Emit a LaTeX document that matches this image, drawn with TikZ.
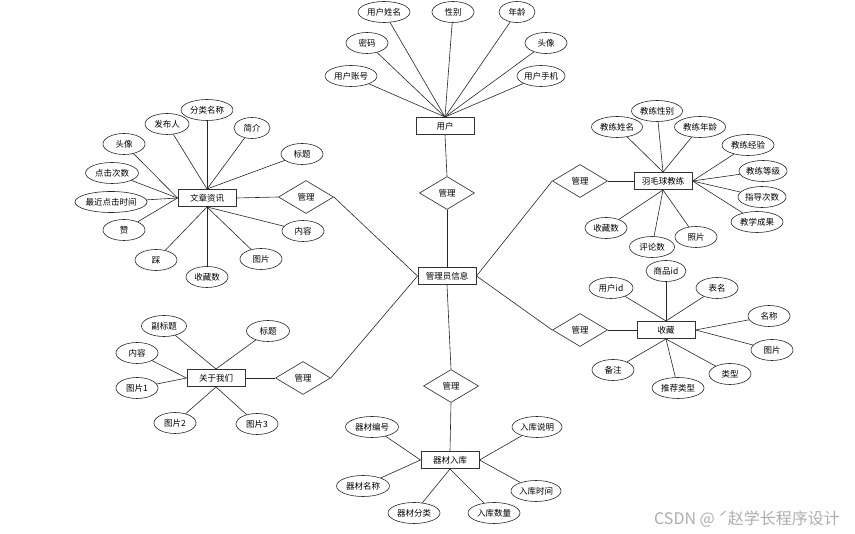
\documentclass[tikz,border=0pt]{standalone}
\usepackage{fontspec}
\setmainfont{Noto Sans CJK SC}
\usetikzlibrary{shapes.geometric}
\begin{document}
\begin{tikzpicture}[x=1pt,y=-1pt,
 lbl/.style={font=\fontsize{8.5}{9.5}\selectfont},
 attr/.style={ellipse,draw=black!85,line width=0.6pt,minimum width=#1,minimum height=21,inner sep=0pt,lbl},
 attr/.default=42,
 ent/.style={rectangle,draw=black!80,line width=1pt,minimum width=58,minimum height=17,inner sep=0pt,lbl},
 rel/.style={diamond,draw=black!85,line width=0.6pt,minimum width=55,minimum height=33,inner sep=0pt,lbl},
 link/.style={draw=black!85,line width=0.6pt}]
\useasboundingbox (0,0) rectangle (855,534);

% ---------- user ----------
\node[ent] (yh) at (445,126) {用户};
\node[attr=52] (yhxm) at (384,12) {用户姓名};
\node[attr] (xb) at (453,12) {性别};
\node[attr=36] (nl) at (517,12) {年龄};
\node[attr] (mm) at (367,43) {密码};
\node[attr] (tx) at (546,43) {头像};
\node[attr=52] (yhzh) at (351,76) {用户账号};
\node[attr=48] (yhsj) at (541,76) {用户手机};
\foreach \a in {yhxm,xb,nl,mm,tx,yhzh,yhsj} \draw[link] (\a) -- (yh.north);

% ---------- admin ----------
\node[ent] (gly) at (447,276) {管理员信息};
\node[rel] (r1) at (447,193) {管理};

% ---------- article ----------
\node[ent] (wz) at (207,198) {文章资讯};
\node[rel] (r2) at (306,197) {管理};
\node[attr=52] (flmc) at (207,110) {分类名称};
\node[attr=44] (fbr) at (167,124) {发布人};
\node[attr=36] (jj) at (252,128) {简介};
\node[attr] (wtx) at (124,144) {头像};
\node[attr] (bt) at (302,154) {标题};
\node[attr=53] (djcs) at (112,173) {点击次数};
\node[attr=68] (zjdj) at (111,202) {最近点击时间};
\node[attr] (zan) at (124,230) {赞};
\node[attr] (nr) at (303,231) {内容};
\node[attr] (cai) at (156,260) {踩};
\node[attr] (wtp) at (261,259) {图片};
\node[attr] (wscs) at (207,277) {收藏数};
\foreach \a in {flmc,fbr,jj,bt} \draw[link] (\a) -- (wz.north);
\foreach \a in {wtx,djcs,zjdj,zan} \draw[link] (\a) -- (wz.west);
\foreach \a in {cai,wscs,wtp,nr} \draw[link] (\a) -- (wz.south);

% ---------- coach ----------
\node[ent] (jl) at (663,181) {羽毛球教练};
\node[rel] (r3) at (580,181) {管理};
\node[attr=51] (jlxb) at (657,111) {教练性别};
\node[attr=51] (jlxm) at (617,127) {教练姓名};
\node[attr=51] (jlnl) at (700,127) {教练年龄};
\node[attr=52] (jljy) at (748,145) {教练经验};
\node[attr=45] (jldj) at (763,171) {教练等级};
\node[attr=45] (zdcs) at (762,197) {指导次数};
\node[attr=52] (jxcg) at (757,222) {教学成果};
\node[attr] (jscs) at (606,228) {收藏数};
\node[attr=45] (pls) at (652,247) {评论数};
\node[attr] (zp) at (696,237) {照片};
\foreach \a in {jlxb,jlxm,jlnl} \draw[link] (\a) -- (jl.north);
\foreach \a in {jljy,jldj,zdcs,jxcg} \draw[link] (\a) -- (jl.east);
\foreach \a in {jscs,pls,zp} \draw[link] (\a) -- (jl.south);

% ---------- favourites ----------
\node[ent] (sc) at (666,330) {收藏};
\node[rel] (r4) at (580,330) {管理};
\node[attr=40] (spid) at (666,271) {商品id};
\node[attr=44] (yhid) at (611,288) {用户id};
\node[attr] (bm) at (717,288) {表名};
\node[attr] (mc) at (769,316) {名称};
\node[attr] (stp) at (772,350) {图片};
\node[attr] (bz) at (613,370) {备注};
\node[attr] (lx) at (730,374) {类型};
\node[attr=52] (tjlx) at (678,388) {推荐类型};
\foreach \a in {spid,yhid,bm} \draw[link] (\a) -- (sc.north);
\foreach \a in {mc,stp} \draw[link] (\a) -- (sc.east);
\foreach \a in {bz,tjlx,lx} \draw[link] (\a) -- (sc.south);

% ---------- about ----------
\node[ent] (gy) at (216,378) {关于我们};
\node[rel] (r5) at (303,378) {管理};
\node[attr=45] (fbt) at (164,326) {副标题};
\node[attr=43] (gbt) at (268,331) {标题};
\node[attr] (gnr) at (137,353) {内容};
\node[attr] (tp1) at (137,388) {图片1};
\node[attr] (tp2) at (175,423) {图片2};
\node[attr] (tp3) at (257,424) {图片3};
\foreach \a in {fbt,gbt} \draw[link] (\a) -- (gy.north);
\foreach \a in {gnr,tp1} \draw[link] (\a) -- (gy.west);
\foreach \a in {tp2,tp3} \draw[link] (\a) -- (gy.south);

% ---------- equipment ----------
\node[ent] (qc) at (450,460) {器材入库};
\node[rel] (r6) at (451,386) {管理};
\node[attr=53] (qcbh) at (372,427) {器材编号};
\node[attr=50] (rksm) at (537,427) {入库说明};
\node[attr=53] (qcmc) at (363,486) {器材名称};
\node[attr=50] (rksj) at (536,491) {入库时间};
\node[attr=52] (qcfl) at (414,513) {器材分类};
\node[attr=52] (rksl) at (494,513) {入库数量};
\foreach \a in {qcbh,qcmc} \draw[link] (\a) -- (qc.west);
\foreach \a in {rksm,rksj} \draw[link] (\a) -- (qc.east);
\foreach \a in {qcfl,rksl} \draw[link] (\a) -- (qc.south);

% ---------- relationships ----------
\draw[link] (yh.south) -- (r1.north);
\draw[link] (r1.south) -- (gly.north);
\draw[link] (gly.west) -- (r2.east);
\draw[link] (r2.west) -- (wz.east);
\draw[link] (gly.west) -- (r5.east);
\draw[link] (r5.west) -- (gy.east);
\draw[link] (gly.east) -- (r3.west);
\draw[link] (r3.east) -- (jl.west);
\draw[link] (gly.east) -- (r4.west);
\draw[link] (r4.east) -- (sc.west);
\draw[link] (gly.south) -- (r6.north);
\draw[link] (r6.south) -- (qc.north);

% watermark
\node[anchor=west,text=black!32,font=\fontsize{16}{18}\selectfont,inner sep=0pt] (wm) at (654,519) {CSDN @ ˊ赵学长程序设计};
\end{tikzpicture}
\end{document}
